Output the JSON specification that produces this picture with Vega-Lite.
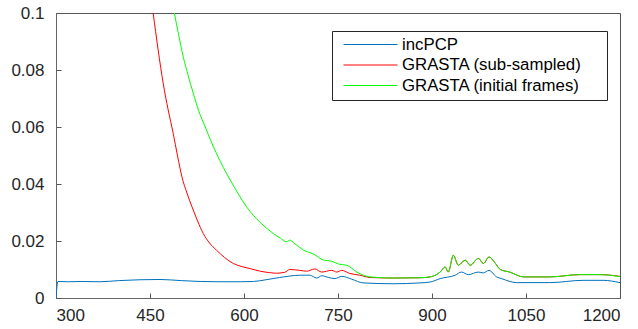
{
  "$schema": "https://vega.github.io/schema/vega-lite/v6.json",
  "autosize": "none",
  "padding": {"left": 56, "top": 13, "right": 18, "bottom": 31},
  "width": 564,
  "height": 285,
  "config": {
    "view": {"stroke": "#555555", "strokeWidth": 1},
    "font": "Liberation Sans",
    "axis": {
      "grid": false,
      "domainColor": "#666666",
      "domainWidth": 1,
      "tickColor": "#555555",
      "tickSize": -5,
      "labelFont": "Liberation Sans",
      "labelFontSize": 17,
      "labelColor": "#262626",
      "title": null
    }
  },
  "data": {
    "values": [
      {"series": "incPCP", "x": 300, "y": 0.0},
      {"series": "incPCP", "x": 303, "y": 0.0058},
      {"series": "incPCP", "x": 320, "y": 0.0057},
      {"series": "incPCP", "x": 340, "y": 0.0058},
      {"series": "incPCP", "x": 370, "y": 0.0057},
      {"series": "incPCP", "x": 400, "y": 0.0061},
      {"series": "incPCP", "x": 434, "y": 0.0064},
      {"series": "incPCP", "x": 466, "y": 0.0065},
      {"series": "incPCP", "x": 500, "y": 0.0061},
      {"series": "incPCP", "x": 530, "y": 0.0058},
      {"series": "incPCP", "x": 560, "y": 0.0057},
      {"series": "incPCP", "x": 594, "y": 0.0057},
      {"series": "incPCP", "x": 615, "y": 0.0058},
      {"series": "incPCP", "x": 635, "y": 0.0064},
      {"series": "incPCP", "x": 657, "y": 0.0072},
      {"series": "incPCP", "x": 673, "y": 0.0077},
      {"series": "incPCP", "x": 689, "y": 0.008},
      {"series": "incPCP", "x": 705, "y": 0.008},
      {"series": "incPCP", "x": 716, "y": 0.007},
      {"series": "incPCP", "x": 724, "y": 0.0078},
      {"series": "incPCP", "x": 735, "y": 0.0072},
      {"series": "incPCP", "x": 745, "y": 0.0068},
      {"series": "incPCP", "x": 756, "y": 0.0076},
      {"series": "incPCP", "x": 772, "y": 0.0066},
      {"series": "incPCP", "x": 790, "y": 0.0053},
      {"series": "incPCP", "x": 838, "y": 0.005},
      {"series": "incPCP", "x": 881, "y": 0.0053},
      {"series": "incPCP", "x": 897, "y": 0.0056},
      {"series": "incPCP", "x": 913, "y": 0.0068},
      {"series": "incPCP", "x": 937, "y": 0.008},
      {"series": "incPCP", "x": 947, "y": 0.0091},
      {"series": "incPCP", "x": 958, "y": 0.0082},
      {"series": "incPCP", "x": 974, "y": 0.0091},
      {"series": "incPCP", "x": 982, "y": 0.0088},
      {"series": "incPCP", "x": 991, "y": 0.0097},
      {"series": "incPCP", "x": 1003, "y": 0.0074},
      {"series": "incPCP", "x": 1011, "y": 0.0068},
      {"series": "incPCP", "x": 1035, "y": 0.0054},
      {"series": "incPCP", "x": 1088, "y": 0.0054},
      {"series": "incPCP", "x": 1141, "y": 0.0062},
      {"series": "incPCP", "x": 1173, "y": 0.0062},
      {"series": "incPCP", "x": 1200, "y": 0.0054},

      {"series": "GRASTA (sub-sampled)", "x": 430, "y": 0.14},
      {"series": "GRASTA (sub-sampled)", "x": 445, "y": 0.115},
      {"series": "GRASTA (sub-sampled)", "x": 455, "y": 0.1},
      {"series": "GRASTA (sub-sampled)", "x": 463, "y": 0.087},
      {"series": "GRASTA (sub-sampled)", "x": 471, "y": 0.0754},
      {"series": "GRASTA (sub-sampled)", "x": 479, "y": 0.066},
      {"series": "GRASTA (sub-sampled)", "x": 487, "y": 0.0578},
      {"series": "GRASTA (sub-sampled)", "x": 494, "y": 0.0498},
      {"series": "GRASTA (sub-sampled)", "x": 501, "y": 0.0425},
      {"series": "GRASTA (sub-sampled)", "x": 509, "y": 0.0368},
      {"series": "GRASTA (sub-sampled)", "x": 517, "y": 0.032},
      {"series": "GRASTA (sub-sampled)", "x": 526, "y": 0.027},
      {"series": "GRASTA (sub-sampled)", "x": 535, "y": 0.0226},
      {"series": "GRASTA (sub-sampled)", "x": 545, "y": 0.0193},
      {"series": "GRASTA (sub-sampled)", "x": 556, "y": 0.0168},
      {"series": "GRASTA (sub-sampled)", "x": 569, "y": 0.0142},
      {"series": "GRASTA (sub-sampled)", "x": 583, "y": 0.0121},
      {"series": "GRASTA (sub-sampled)", "x": 597, "y": 0.011},
      {"series": "GRASTA (sub-sampled)", "x": 610, "y": 0.0103},
      {"series": "GRASTA (sub-sampled)", "x": 626, "y": 0.0094},
      {"series": "GRASTA (sub-sampled)", "x": 641, "y": 0.0089},
      {"series": "GRASTA (sub-sampled)", "x": 652, "y": 0.0087},
      {"series": "GRASTA (sub-sampled)", "x": 665, "y": 0.009},
      {"series": "GRASTA (sub-sampled)", "x": 673, "y": 0.01},
      {"series": "GRASTA (sub-sampled)", "x": 689, "y": 0.0097},
      {"series": "GRASTA (sub-sampled)", "x": 700, "y": 0.0094},
      {"series": "GRASTA (sub-sampled)", "x": 713, "y": 0.0102},
      {"series": "GRASTA (sub-sampled)", "x": 724, "y": 0.0091},
      {"series": "GRASTA (sub-sampled)", "x": 740, "y": 0.0097},
      {"series": "GRASTA (sub-sampled)", "x": 748, "y": 0.0091},
      {"series": "GRASTA (sub-sampled)", "x": 756, "y": 0.0097},
      {"series": "GRASTA (sub-sampled)", "x": 769, "y": 0.0086},
      {"series": "GRASTA (sub-sampled)", "x": 785, "y": 0.008},
      {"series": "GRASTA (sub-sampled)", "x": 801, "y": 0.0072},
      {"series": "GRASTA (sub-sampled)", "x": 838, "y": 0.007},
      {"series": "GRASTA (sub-sampled)", "x": 881, "y": 0.0071},
      {"series": "GRASTA (sub-sampled)", "x": 897, "y": 0.0074},
      {"series": "GRASTA (sub-sampled)", "x": 913, "y": 0.0091},
      {"series": "GRASTA (sub-sampled)", "x": 921, "y": 0.0109},
      {"series": "GRASTA (sub-sampled)", "x": 926, "y": 0.0091},
      {"series": "GRASTA (sub-sampled)", "x": 934, "y": 0.015},
      {"series": "GRASTA (sub-sampled)", "x": 942, "y": 0.0115},
      {"series": "GRASTA (sub-sampled)", "x": 953, "y": 0.0133},
      {"series": "GRASTA (sub-sampled)", "x": 961, "y": 0.0115},
      {"series": "GRASTA (sub-sampled)", "x": 974, "y": 0.0139},
      {"series": "GRASTA (sub-sampled)", "x": 982, "y": 0.0121},
      {"series": "GRASTA (sub-sampled)", "x": 991, "y": 0.0144},
      {"series": "GRASTA (sub-sampled)", "x": 1000, "y": 0.0125},
      {"series": "GRASTA (sub-sampled)", "x": 1009, "y": 0.01},
      {"series": "GRASTA (sub-sampled)", "x": 1024, "y": 0.0091},
      {"series": "GRASTA (sub-sampled)", "x": 1046, "y": 0.0074},
      {"series": "GRASTA (sub-sampled)", "x": 1088, "y": 0.0074},
      {"series": "GRASTA (sub-sampled)", "x": 1136, "y": 0.0082},
      {"series": "GRASTA (sub-sampled)", "x": 1168, "y": 0.0082},
      {"series": "GRASTA (sub-sampled)", "x": 1200, "y": 0.0076},

      {"series": "GRASTA (initial frames)", "x": 470, "y": 0.135},
      {"series": "GRASTA (initial frames)", "x": 480, "y": 0.113},
      {"series": "GRASTA (initial frames)", "x": 489, "y": 0.1},
      {"series": "GRASTA (initial frames)", "x": 496, "y": 0.092},
      {"series": "GRASTA (initial frames)", "x": 503, "y": 0.0847},
      {"series": "GRASTA (initial frames)", "x": 511, "y": 0.078},
      {"series": "GRASTA (initial frames)", "x": 519, "y": 0.0719},
      {"series": "GRASTA (initial frames)", "x": 528, "y": 0.0655},
      {"series": "GRASTA (initial frames)", "x": 538, "y": 0.0601},
      {"series": "GRASTA (initial frames)", "x": 547, "y": 0.0552},
      {"series": "GRASTA (initial frames)", "x": 556, "y": 0.0508},
      {"series": "GRASTA (initial frames)", "x": 567, "y": 0.0458},
      {"series": "GRASTA (initial frames)", "x": 578, "y": 0.0414},
      {"series": "GRASTA (initial frames)", "x": 591, "y": 0.0365},
      {"series": "GRASTA (initial frames)", "x": 604, "y": 0.032},
      {"series": "GRASTA (initial frames)", "x": 615, "y": 0.029},
      {"series": "GRASTA (initial frames)", "x": 625, "y": 0.0267},
      {"series": "GRASTA (initial frames)", "x": 636, "y": 0.0245},
      {"series": "GRASTA (initial frames)", "x": 647, "y": 0.0226},
      {"series": "GRASTA (initial frames)", "x": 658, "y": 0.021},
      {"series": "GRASTA (initial frames)", "x": 668, "y": 0.0197},
      {"series": "GRASTA (initial frames)", "x": 673, "y": 0.0203},
      {"series": "GRASTA (initial frames)", "x": 680, "y": 0.0192},
      {"series": "GRASTA (initial frames)", "x": 695, "y": 0.0168},
      {"series": "GRASTA (initial frames)", "x": 711, "y": 0.0154},
      {"series": "GRASTA (initial frames)", "x": 727, "y": 0.0133},
      {"series": "GRASTA (initial frames)", "x": 740, "y": 0.0129},
      {"series": "GRASTA (initial frames)", "x": 751, "y": 0.0119},
      {"series": "GRASTA (initial frames)", "x": 764, "y": 0.0115},
      {"series": "GRASTA (initial frames)", "x": 780, "y": 0.0091},
      {"series": "GRASTA (initial frames)", "x": 801, "y": 0.0074},
      {"series": "GRASTA (initial frames)", "x": 838, "y": 0.007},
      {"series": "GRASTA (initial frames)", "x": 881, "y": 0.0071},
      {"series": "GRASTA (initial frames)", "x": 897, "y": 0.0074},
      {"series": "GRASTA (initial frames)", "x": 913, "y": 0.0091},
      {"series": "GRASTA (initial frames)", "x": 921, "y": 0.0109},
      {"series": "GRASTA (initial frames)", "x": 926, "y": 0.0091},
      {"series": "GRASTA (initial frames)", "x": 934, "y": 0.015},
      {"series": "GRASTA (initial frames)", "x": 942, "y": 0.0115},
      {"series": "GRASTA (initial frames)", "x": 953, "y": 0.0133},
      {"series": "GRASTA (initial frames)", "x": 961, "y": 0.0115},
      {"series": "GRASTA (initial frames)", "x": 974, "y": 0.0139},
      {"series": "GRASTA (initial frames)", "x": 982, "y": 0.0121},
      {"series": "GRASTA (initial frames)", "x": 991, "y": 0.0144},
      {"series": "GRASTA (initial frames)", "x": 1000, "y": 0.0125},
      {"series": "GRASTA (initial frames)", "x": 1009, "y": 0.01},
      {"series": "GRASTA (initial frames)", "x": 1024, "y": 0.0091},
      {"series": "GRASTA (initial frames)", "x": 1046, "y": 0.0074},
      {"series": "GRASTA (initial frames)", "x": 1088, "y": 0.0074},
      {"series": "GRASTA (initial frames)", "x": 1136, "y": 0.0082},
      {"series": "GRASTA (initial frames)", "x": 1168, "y": 0.0082},
      {"series": "GRASTA (initial frames)", "x": 1200, "y": 0.0075}
    ]
  },
  "mark": {"type": "line", "clip": true, "strokeWidth": 1, "interpolate": "monotone"},
  "encoding": {
    "x": {"field": "x", "type": "quantitative",
          "scale": {"domain": [300, 1200], "nice": false, "zero": false},
          "axis": {"orient": "bottom", "values": [300, 450, 600, 750, 900, 1050, 1200], "format": "d", "labelPadding": 14}},
    "y": {"field": "y", "type": "quantitative",
          "scale": {"domain": [0, 0.1], "nice": false},
          "axis": {"orient": "left", "values": [0, 0.02, 0.04, 0.06, 0.08, 0.1], "format": "~g", "labelPadding": 17}},
    "color": {"field": "series", "type": "nominal",
              "scale": {"domain": ["incPCP", "GRASTA (sub-sampled)", "GRASTA (initial frames)"],
                        "range": ["#0072BD", "#FF0000", "#00FF00"]},
              "legend": {"title": " ", "titleOrient": "right", "titlePadding": 20, "titleFontSize": 16,
                         "orient": "none", "legendX": 276, "legendY": 18,
                         "symbolType": "M-3.375,0H3.375", "symbolSize": 256, "symbolStrokeWidth": 1,
                         "symbolOffset": 25,
                         "labelFont": "Liberation Sans", "labelFontSize": 16.8, "labelColor": "#000000",
                         "labelLimit": 400,
                         "labelOffset": 23, "rowPadding": 2.5, "padding": 5,
                         "strokeColor": "#262626", "fillColor": "#ffffff"}}
  }
}
